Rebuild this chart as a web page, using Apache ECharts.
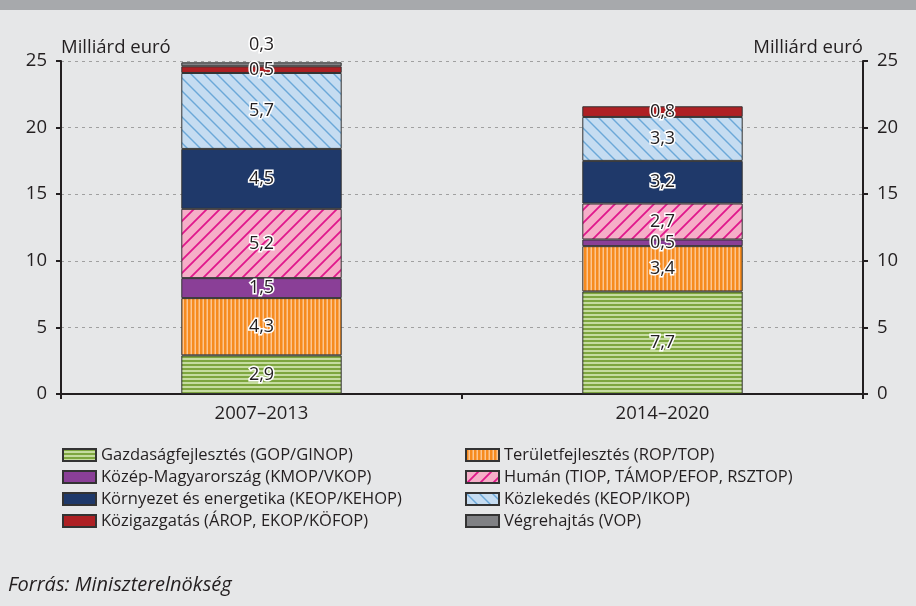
<!DOCTYPE html>
<html>
<head>
<meta charset="utf-8">
<script src="https://cdn.jsdelivr.net/npm/echarts@6/dist/echarts.min.js"></script>
<style>
html,body{margin:0;padding:0;background:#e6e7e8;}
#c{width:916px;height:606px;}
</style>
</head>
<body>
<div id="c"></div>
<script>
// ---- data ----
const categories = ['2007–2013', '2014–2020'];
const seriesNames = [
  'Gazdaságfejlesztés (GOP/GINOP)',
  'Területfejlesztés (ROP/TOP)',
  'Közép-Magyarország (KMOP/VKOP)',
  'Humán (TIOP, TÁMOP/EFOP, RSZTOP)',
  'Környezet és energetika (KEOP/KEHOP)',
  'Közlekedés (KEOP/IKOP)',
  'Közigazgatás (ÁROP, EKOP/KÖFOP)',
  'Végrehajtás (VOP)'
];
const gazdasag = [2.9, 7.7];
const terulet = [4.3, 3.4];
const kozep = [1.5, 0.5];
const human = [5.2, 2.7];
const kornyezet = [4.5, 3.2];
const kozlekedes = [5.7, 3.3];
const kozigazgatas = [0.5, 0.8];
const vegrehajtas = [0.3, null];
const yTicks = [0, 5, 10, 15, 20, 25];
const axisName = 'Milliárd euró';
const source = 'Forrás: Miniszterelnökség';

// ---- patterns ----
function mk(w, h, fn) {
  const c = document.createElement('canvas');
  c.width = w; c.height = h;
  const g = c.getContext('2d');
  fn(g, w, h);
  return { image: c, repeat: 'repeat' };
}
const greenPat = mk(4, 4, (g) => {
  g.fillStyle = '#c6dca0'; g.fillRect(0, 0, 4, 4);
  g.fillStyle = '#7ea63f'; g.fillRect(0, 0, 4, 2);
});
const orangePat = mk(4, 4, (g) => {
  g.fillStyle = '#fcc590'; g.fillRect(0, 0, 4, 4);
  g.fillStyle = '#f68b1f'; g.fillRect(0, 0, 2.5, 4);
});
const pinkPat = mk(13, 13, (g, w, h) => {
  g.fillStyle = '#f6aec8'; g.fillRect(0, 0, w, h);
  g.strokeStyle = '#e0188c'; g.lineWidth = 1.8;
  g.beginPath();
  g.moveTo(-2, h + 2); g.lineTo(w + 2, -2);
  g.moveTo(-2, 2); g.lineTo(2, -2);
  g.moveTo(w - 2, h + 2); g.lineTo(w + 2, h - 2);
  g.stroke();
});
const bluePat = mk(13, 13, (g, w, h) => {
  g.fillStyle = '#c5dcf1'; g.fillRect(0, 0, w, h);
  g.strokeStyle = '#6ba8d8'; g.lineWidth = 1.4;
  g.beginPath();
  g.moveTo(-2, -2); g.lineTo(w + 2, h + 2);
  g.moveTo(w - 2, -2); g.lineTo(w + 2, 2);
  g.moveTo(-2, h - 2); g.lineTo(2, h + 2);
  g.stroke();
});
const fills = [greenPat, orangePat, '#8a3f97', pinkPat, '#1f396a', bluePat, '#ae2024', '#808184'];
const dataSets = [gazdasag, terulet, kozep, human, kornyezet, kozlekedes, kozigazgatas, vegrehajtas];

const FONT = 'Open Sans';
const TXT = '#231f20';

const series = dataSets.map((d, i) => ({
  name: seriesNames[i],
  type: 'bar',
  stack: 'total',
  barWidth: '40%',
  data: d,
  itemStyle: { color: fills[i], borderColor: '#333', borderWidth: 1 },
  label: {
    show: true,
    position: i === 7 ? 'top' : 'inside',
    distance: 8,
    formatter: (p) => (p.value == null ? '' : String(p.value).replace('.', ',')),
    color: TXT,
    fontFamily: FONT,
    fontSize: 18,
    textBorderColor: '#ffffff',
    textBorderWidth: 3
  },
  emphasis: { disabled: true }
}));

const legendText = { fontFamily: FONT, fontSize: 16.5, color: TXT, lineHeight: 18 };
const leftIdx = [0, 2, 4, 6], rightIdx = [1, 3, 5, 7];

const chart = echarts.init(document.getElementById('c'), null, { renderer: 'canvas' });
chart.setOption({
  backgroundColor: '#e6e7e8',
  animation: false,
  textStyle: { fontFamily: FONT },
  grid: { left: 61, right: 53, top: 61, bottom: 212 },
  xAxis: {
    type: 'category',
    data: categories,
    axisLine: { lineStyle: { color: TXT, width: 2 } },
    axisTick: { show: true, length: 5, lineStyle: { color: TXT, width: 2 } },
    axisLabel: { color: TXT, fontSize: 18.5, fontFamily: FONT, margin: 10 }
  },
  yAxis: [0, 1].map((k) => ({
    type: 'value',
    min: yTicks[0], max: yTicks[yTicks.length - 1], interval: 5,
    position: k === 0 ? 'left' : 'right',
    name: axisName,
    nameLocation: 'end',
    nameGap: 4,
    nameTextStyle: { color: TXT, fontSize: 18.5, fontFamily: FONT, align: k === 0 ? 'left' : 'right' },
    axisLine: { show: true, lineStyle: { color: TXT, width: 2 } },
    axisTick: { show: true, length: 5, lineStyle: { color: TXT, width: 2 } },
    axisLabel: { color: TXT, fontSize: 18.5, fontFamily: FONT, margin: 14 },
    splitLine: { show: k === 0, lineStyle: { color: '#a0a0a0', type: [3, 4], width: 1 } }
  })),
  legend: [
    { idx: leftIdx, left: 62 },
    { idx: rightIdx, left: 465 }
  ].map((L) => ({
    data: L.idx.map((i) => seriesNames[i]),
    orient: 'vertical',
    left: L.left,
    top: 446,
    padding: 0,
    itemWidth: 33,
    itemHeight: 12,
    itemGap: 4,
    icon: 'rect',
    selectedMode: false,
    textStyle: legendText
  })),
  graphic: [
    { type: 'rect', left: 0, top: 0, shape: { width: 916, height: 10 }, style: { fill: '#a7a9ac' }, silent: true },
    { type: 'text', left: 8, top: 575, style: { text: source, font: 'italic 20px "Open Sans"', fill: TXT } }
  ],
  series: series
});
</script>
</body>
</html>
